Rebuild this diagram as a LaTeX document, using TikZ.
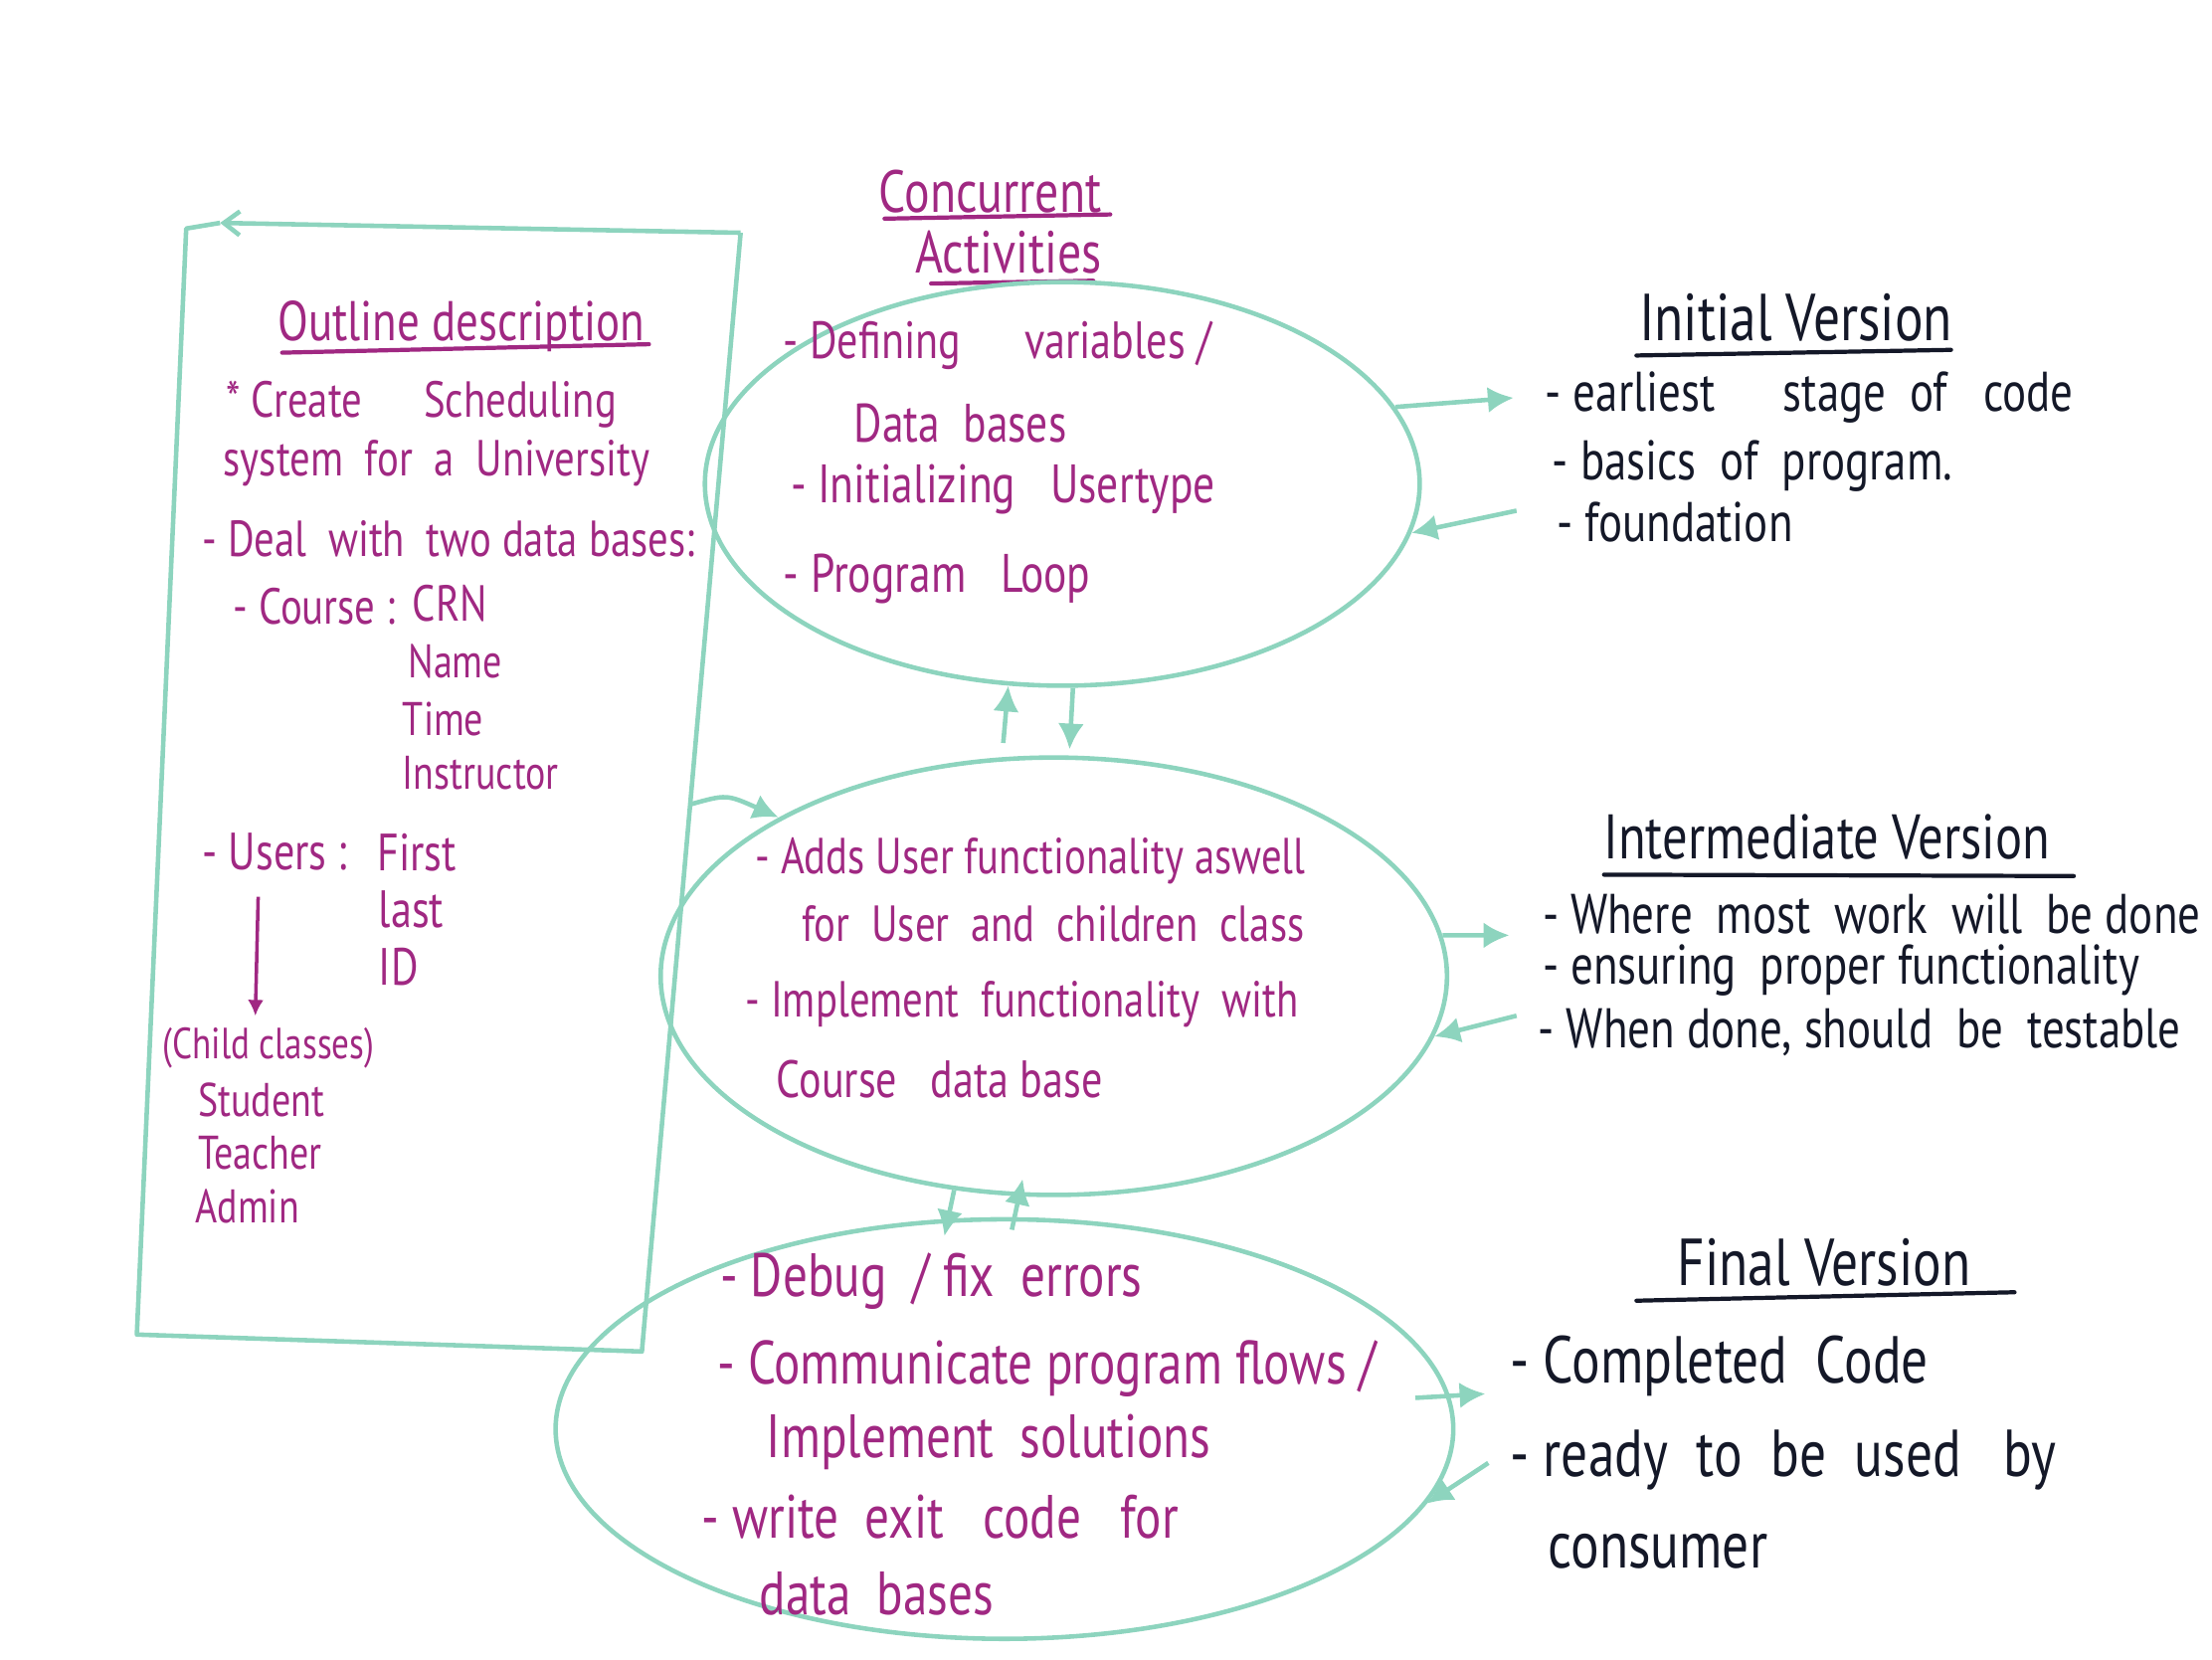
\documentclass[tikz,border=0pt]{standalone}
\usepackage{fontspec}
\setmainfont{PT Sans}[FakeStretch=0.8]
\usetikzlibrary{arrows.meta,shapes.geometric,calc}
\definecolor{mint}{RGB}{141,212,190}
\definecolor{plum}{RGB}{160,40,130}
\definecolor{ink}{RGB}{20,24,40}
\newcommand{\fs}[1]{\fontsize{#1}{#1}\selectfont}
\tikzset{
  boxline/.style={draw=mint, line width=1.3pt, line join=round},
  phase/.style={draw=mint, line width=1.3pt, ellipse, inner sep=0},
  conn/.style={draw=mint, line width=1.3pt, -{Latex[length=2.6mm,width=2.6mm]}},
  parr/.style={draw=plum, line width=1pt, -{Latex[length=1.6mm,width=1.6mm]}},
  uline/.style={line width=1.2pt, line cap=round},
  pl/.style={anchor=west, inner sep=0, text=plum, font=\fs{14.5}},
  bk/.style={anchor=west, inner sep=0, text=ink, font=\fs{16}},
  hd/.style={inner sep=0, font=\fs{17}}
}
\begin{document}
\begin{tikzpicture}[x=0.014184cm, y=-0.014184cm]
\useasboundingbox (0,0) rectangle (1568,1176);

% outline box
\coordinate (b1) at (132,162);
\coordinate (b2) at (525,165);
\coordinate (b3) at (455,958);
\coordinate (b4) at (97,946);
\coordinate (btip) at (156,158);
\coordinate (bx) at ($(b2)!0.511!(b3)$);
\draw[boxline] (btip) -- (b1) -- (b4) -- (b3) -- (b2);
\draw[boxline, -{Straight Barb[length=1.6mm,width=2.4mm]}] (b2) -- (btip);

\node[hd, text=plum, font=\fs{16}] (od) at (327,231) {Outline description};
\draw[uline, plum] ([shift={(-127,19)}]od.center) -- ([shift={(133,13)}]od.center);
\node[pl] (cs) at (160,287) {* Create \quad Scheduling};
\node[pl] (sy) at (158,328) {system \ for \ a \ University};
\node[pl] (dl) at (143,382) {- Deal \ with \ two data bases:};
\node[pl] (co) at (165,430) {- Course :};
\node[pl] (crn) at (292,428) {CRN};
\node[pl, font=\fs{13.5}] (nm) at (289,469) {Name};
\node[pl, font=\fs{13.5}] (tm) at (285,510) {Time};
\node[pl, font=\fs{13.5}] (ins) at (285,548) {Instructor};
\node[pl, font=\fs{15}] (usr) at (143,604) {- Users :};
\node[pl, font=\fs{15}] (fst) at (267,604) {First};
\node[pl, font=\fs{15}] (lst) at (268,645) {last};
\node[pl, font=\fs{15}] (idn) at (268,685) {ID};
\node[pl, font=\fs{12.5}] (chd) at (115,743) {(Child classes)};
\node[pl, font=\fs{13.5}] (stu) at (140,780) {Student};
\node[pl, font=\fs{13.5}] (tch) at (140,817) {Teacher};
\node[pl, font=\fs{13.5}] (adm) at (138,855) {Admin};
\draw[parr] ([shift={(40,18)}]usr.south west) -- ([shift={(66,-8)}]chd.north west);

% concurrent activities
\node[hd, text=plum] (cc) at (702,136) {Concurrent};
\draw[uline, plum] ([shift={(-75,19)}]cc.center) -- ([shift={(85,16)}]cc.center);
\node[hd, text=plum] (ac) at (715,179) {Activities};
\draw[uline, plum] ([shift={(-55,22)}]ac.center) -- ([shift={(60,20)}]ac.center);

\node[phase, minimum width=7.19cm, minimum height=4.06cm] (e1) at (753,343) {};
\node[phase, minimum width=7.91cm, minimum height=4.40cm] (e2) at (747,692) {};
\node[phase, minimum width=9.03cm, minimum height=4.22cm] (e3) at (712,1013) {};

\node[pl, font=\fs{15}] (d1) at (555,245) {- Defining \quad variables /};
\node[pl, font=\fs{15.5}] (d2) at (605,300) {Data \ bases};
\node[pl, font=\fs{15.5}] (d3) at (560,347) {- Initializing \ \ Usertype};
\node[pl, font=\fs{15.5}] (d4) at (555,410) {- Program \ \ Loop};

\node[pl] (a1) at (535,610) {- Adds User functionality aswell};
\node[pl] (a2) at (568,655) {for \ User \ and \ children \ class};
\node[pl] (a3) at (528,712) {- Implement \ functionality \ with};
\node[pl, font=\fs{15}] (a4) at (550,765) {Course \ \ data base};

\node[pl, font=\fs{17.5}] (g1) at (510,908) {- Debug \ / fix \ errors};
\node[pl, font=\fs{17.5}] (g2) at (508,970) {- Communicate program flows /};
\node[pl, font=\fs{17.5}] (g3) at (543,1022) {Implement \ solutions};
\node[pl, font=\fs{17.5}] (g4) at (497,1075) {- write \ exit \ \ code \ \ for};
\node[pl, font=\fs{17.5}] (g5) at (538,1130) {data \ bases};

% versions
\node[hd, text=ink, font=\fs{19}] (ini) at (1273,225) {Initial Version};
\draw[uline, ink] ([shift={(-113,27)}]ini.center) -- ([shift={(110,23)}]ini.center);
\node[bk] (ini1) at (1095,282) {- earliest \quad stage \ of \ \ code};
\node[bk] (ini2) at (1100,330) {- basics \ of \ program.};
\node[bk] (ini3) at (1103,370) {- foundation};

\node[hd, text=ink, font=\fs{18}] (mid) at (1295,593) {Intermediate Version};
\draw[uline, ink] ([shift={(-158,27)}]mid.center) -- ([shift={(175,28)}]mid.center);
\node[bk] (mid1) at (1093,648) {- Where \ most \ work \ will \ be done};
\node[bk] (mid2) at (1093,688) {- ensuring \ proper functionality};
\node[bk] (mid3) at (1090,732) {- When done, should \ be \ testable};

\node[hd, text=ink, font=\fs{19}] (fin) at (1293,895) {Final Version};
\draw[uline, ink] ([shift={(-133,27)}]fin.center) -- ([shift={(135,21)}]fin.center);
\node[bk, font=\fs{19}] (fin1) at (1070,968) {- Completed \ Code};
\node[bk, font=\fs{19}] (fin2) at (1070,1035) {- ready \ to \ be \ used \ \ by};
\node[bk, font=\fs{19}] (fin3) at (1097,1100) {consumer};

% connectors
\draw[conn] (bx) .. controls (515,563) .. (e2.150);
\draw[conn] ([shift={(0,-10)}]e2.103) -- (e1.-105);
\draw[conn, shorten >=0.06cm] (e1.-87) -- (e2.86);
\draw[conn, shorten >=-0.18cm] (e2.-115) -- (e3.105);
\draw[conn, shorten >=-0.18cm] ([shift={(0,9)}]e3.88) -- (e2.-99);
\draw[conn] (e1.13) -- ([shift={(-22,0)}]ini1.west);
\draw[conn] ([shift={(-28,-8)}]ini3.west) -- (e1.-8);
\draw[conn] (e2.6) -- ([shift={(-23,15)}]mid1.west);
\draw[conn] ([shift={(-15,-12)}]mid3.west) -- (e2.-9);
\draw[conn] ([shift={(-25,0)}]e3.4) -- ([shift={(-17,20)}]fin1.west);
\draw[conn] ([shift={(-15,2)}]fin2.west) -- (e3.-10);
\end{tikzpicture}
\end{document}
